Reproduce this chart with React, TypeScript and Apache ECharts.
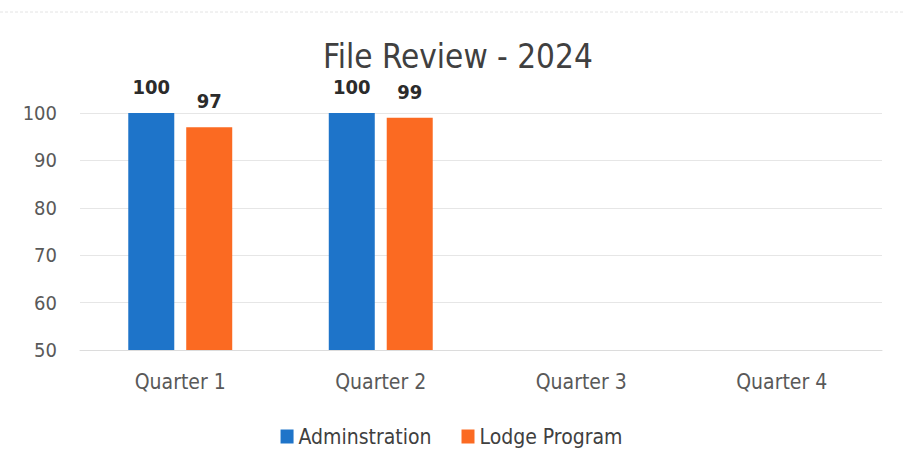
import React, { useEffect, useRef } from "react";
import * as echarts from "echarts";

const categories = ["Quarter 1", "Quarter 2", "Quarter 3", "Quarter 4"];
const adminValues = [100, 100, null, null];
const lodgeValues = [97, 99, null, null];
const seriesNames = ["Adminstration", "Lodge Program"];

const FONT = "'Liberation Sans Narrow', 'DejaVu Sans Condensed', 'Open Sans', sans-serif";

export default function App() {
  const ref = useRef<HTMLDivElement>(null);
  useEffect(() => {
    if (!ref.current) return;
    const chart = echarts.init(ref.current, undefined, { renderer: "svg" });
    const label = {
      show: true,
      position: "top",
      distance: 16,
      fontFamily: FONT,
      fontSize: 20,
      fontWeight: "bold",
      color: "#2b2b2b",
    };
    chart.setOption({
      animation: false,
      backgroundColor: "#ffffff",
      title: {
        text: "File Review - 2024",
        left: 318,
        top: 35,
        textStyle: { fontFamily: FONT, fontSize: 33, fontWeight: "normal", color: "#404040" },
      },
      graphic: [
        {
          type: "line",
          shape: { x1: 0, y1: 12, x2: 903, y2: 12 },
          style: { stroke: "#e4e4e4", lineWidth: 1, lineDash: [3, 2] },
        },
      ],
      legend: {
        bottom: 15,
        left: "center",
        itemWidth: 13,
        itemHeight: 14,
        itemGap: 30,
        icon: "rect",
        textStyle: { fontFamily: FONT, fontSize: 21, color: "#404040" },
        data: seriesNames,
      },
      grid: { left: 80, right: 21, top: 113, bottom: 117, containLabel: false },
      xAxis: {
        type: "category",
        data: categories,
        axisLine: { show: true, lineStyle: { color: "#dcdcdc" } },
        axisTick: { show: false },
        axisLabel: { margin: 21, fontFamily: FONT, fontSize: 21, color: "#595959" },
      },
      yAxis: {
        type: "value",
        min: 50,
        max: 100,
        interval: 10,
        axisLine: { show: false },
        axisTick: { show: false },
        splitLine: { lineStyle: { color: "#e6e6e6" } },
        axisLabel: { margin: 23, fontFamily: FONT, fontSize: 20, color: "#595959" },
      },
      series: [
        {
          name: seriesNames[0],
          type: "bar",
          data: adminValues,
          barWidth: 46,
          barGap: "26%",
          itemStyle: { color: "#1E74C9" },
          label,
        },
        {
          name: seriesNames[1],
          type: "bar",
          data: lodgeValues,
          barWidth: 46,
          itemStyle: { color: "#FB6A22" },
          label,
        },
      ],
    });
    return () => chart.dispose();
  }, []);
  return (
    <div
      ref={ref}
      style={{ position: "fixed", left: 0, top: 0, width: 903, height: 467, background: "#fff" }}
    />
  );
}
